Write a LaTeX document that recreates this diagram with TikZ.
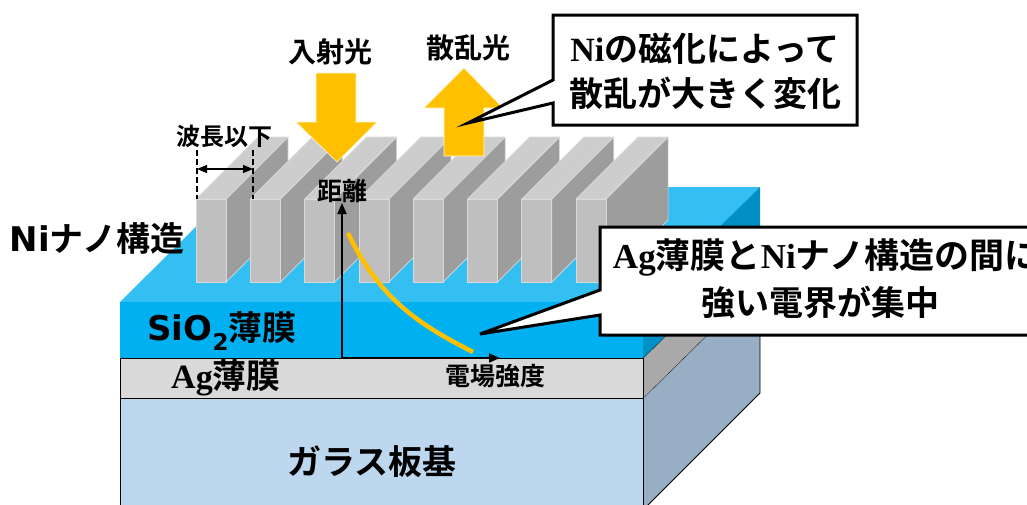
\documentclass[tikz,border=0pt]{standalone}
\usepackage{fontspec}
\usetikzlibrary{arrows.meta}
\newfontfamily\jp{Noto Sans CJK JP Bold}
\newfontfamily\vsans{DejaVu Sans}[BoldFont={DejaVu Sans Bold}]
\newfontfamily\tnr{Liberation Serif}
\newcommand\fsz[2]{\fontsize{#1}{#2}\selectfont}

\definecolor{sioTop}{HTML}{33BFF2}
\definecolor{sioFront}{HTML}{00B0F0}
\definecolor{sioSide}{HTML}{0090C6}
\definecolor{agFront}{HTML}{D9D9D9}
\definecolor{agSide}{HTML}{A9A9A9}
\definecolor{glFront}{HTML}{BDD7EE}
\definecolor{glSide}{HTML}{98AEC4}
\definecolor{finFront}{HTML}{BFBFBF}
\definecolor{finSide}{HTML}{9D9D9D}
\definecolor{finTop}{HTML}{CDCDCD}
\definecolor{finEdge}{HTML}{DADADA}
\definecolor{amber}{HTML}{FFC000}

\tikzset{
  lbl/.style={inner sep=0pt, font=\jp},
  finface/.style={draw=finEdge, line width=0.7pt, line join=round},
  layeredge/.style={draw=black, line width=0.8pt},
  bigarrow/.style={fill=amber, draw=white!85!amber, line width=0.6pt},
  callout/.style={fill=white, draw=black, line width=3pt, line join=miter},
  axis/.style={line width=1.8pt, -{Triangle[length=11pt,width=9pt]}},
  pitchline/.style={line width=2pt, dash pattern=on 6pt off 3pt},
}

\begin{document}
\begin{tikzpicture}[x=1pt, y=-1pt]
\useasboundingbox (0,0) rectangle (1027,504);
\clip (0,0) rectangle (1027,504);

% ---- glass substrate
\fill[glFront] (120,398) rectangle (643,510);
\fill[glSide] (643,398) -- (760,283) -- (760,393) -- (643,510) -- cycle;
\draw[layeredge] (120,510) -- (120,398) -- (643,398) -- (643,510);
\draw[layeredge] (643,398) -- (760,283) -- (760,393) -- (643,510);

% ---- Ag film
\fill[agFront] (120,358) rectangle (643,398);
\fill[agSide] (643,358) -- (760,243) -- (760,283) -- (643,398) -- cycle;
\draw[layeredge] (120,398) -- (120,358) -- (643,358) -- (643,398);
\draw[layeredge] (643,358) -- (760,243) -- (760,283);

% ---- SiO2 film
\fill[sioTop] (120,302) -- (236,187) -- (760,187) -- (643,302) -- cycle;
\fill[sioFront] (120,302) rectangle (643,358);
\fill[sioSide] (643,302) -- (760,187) -- (760,243) -- (643,358) -- cycle;

% ---- Ni nano fins (left to right, each covering the previous side face)
\foreach \i in {0,...,7}{
  \pgfmathsetmacro\xa{196+54.3*\i}
  \path[finface, fill=finSide] (\xa+30,199) -- (\xa+92,137) -- (\xa+92,220) -- (\xa+30,282) -- cycle;
  \path[finface, fill=finTop] (\xa,199) -- (\xa+62,137) -- (\xa+92,137) -- (\xa+30,199) -- cycle;
  \path[finface, fill=finFront] (\xa,199) rectangle (\xa+30,282);
}

% ---- field strength vs distance plot
\coordinate (origin) at (342,358);
\coordinate (yend) at (342,203);
\coordinate (xend) at (500,358);
\coordinate (fieldtop) at (348,233);
\coordinate (fieldend) at (473,352);
\draw[amber, line width=4.5pt] (fieldtop) .. controls (380,300) and (420,325) .. (fieldend);
\draw[axis] (origin) -- (yend);
\draw[axis] (origin) -- (xend);

% ---- sub-wavelength pitch marker
\coordinate (dimLtop) at (197,150);
\coordinate (dimLbot) at (197,199);
\coordinate (dimRtop) at (253,150);
\coordinate (dimRbot) at (253,199);
\coordinate (dimL) at (197,169);
\coordinate (dimR) at (253,169);
\draw[pitchline] (dimLtop) -- (dimLbot);
\draw[pitchline] (dimRtop) -- (dimRbot);
\draw[line width=1.2pt, {Triangle[length=10pt,width=8pt]}-{Triangle[length=10pt,width=8pt]}] (dimL) -- (dimR);

% ---- incident and scattered light
\path[bigarrow] (316,73) -- (356,73) -- (356,122) -- (377,122) -- (337,162) -- (296,122) -- (316,122) -- cycle;
\path[bigarrow] (444,156) -- (484,156) -- (484,108) -- (503,108) -- (464,68) -- (424,108) -- (444,108) -- cycle;

% ---- labels
\node[lbl, font=\jp\fsz{28}{32}] (incident) at (330,52) {入射光};
\node[lbl, font=\jp\fsz{28}{32}] (scattered) at (468,48) {散乱光};
\node[lbl, font=\jp\fsz{24}{28}] (pitch) at (224,136) {波長以下};
\node[lbl, font=\jp\fsz{25}{28}] (distance) at (342,191) {距離};
\node[lbl, font=\jp\fsz{25}{28}] (fieldlbl) at (495,376) {電場強度};
\node[lbl, font=\jp\fsz{34}{38}] (nilbl) at (97,239) {{\vsans\bfseries Ni}ナノ構造};
\node[lbl, font=\jp\fsz{34}{38}] (siolbl) at (222,331) {{\vsans\bfseries SiO\raisebox{-0.32em}{\fsz{23}{23}2}}薄膜};
\node[lbl, font=\jp\fsz{34}{38}] (aglbl) at (226,378) {{\tnr\bfseries Ag}薄膜};
\node[lbl, font=\jp\fsz{34}{38}] (glasslbl) at (372,462) {ガラス板基};

% ---- callouts
\draw[callout] (553,15) -- (857,15) -- (857,125) -- (553,125) -- (553,103) -- (468,123) -- (553,80) -- cycle;
\node[lbl, font=\jp\fsz{34}{38}] (magA) at (705,49) {{\tnr\bfseries Ni}の磁化によって};
\node[lbl, font=\jp\fsz{34}{38}] (magB) at (705,93) {散乱が大きく変化};

\draw[callout] (600,227) -- (1045,227) -- (1045,335) -- (600,335) -- (600,315) -- (480,334) -- (600,290) -- cycle;
\node[lbl, font=\jp\fsz{35}{38}] (fieldA) at (826,257) {{\tnr\bfseries Ag}薄膜と{\tnr\bfseries Ni}ナノ構造の間に};
\node[lbl, font=\jp\fsz{34}{38}] (fieldB) at (820,302) {強い電界が集中};
\end{tikzpicture}
\end{document}
